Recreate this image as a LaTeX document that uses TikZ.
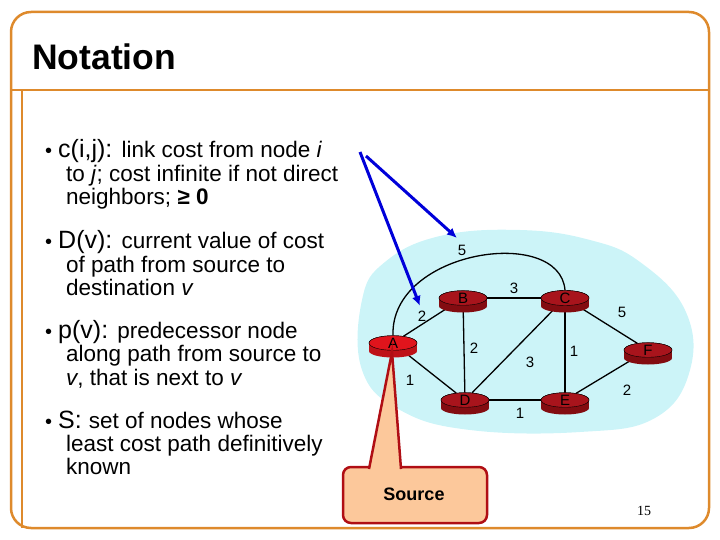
\documentclass[tikz,border=0pt]{standalone}
\usepackage{fontspec}
\setmainfont{Liberation Sans}
\newfontfamily\serifnum{Liberation Serif}
\usetikzlibrary{shapes.geometric,arrows.meta}
\definecolor{frame}{HTML}{DE8A2C}
\definecolor{cloud}{HTML}{CCF4F8}
\definecolor{rtr}{HTML}{9A0E14}
\definecolor{rtrtop}{HTML}{A8141C}
\definecolor{rtrA}{HTML}{E0141C}
\definecolor{peach}{HTML}{FCC89B}
\definecolor{calloutb}{HTML}{B00E14}
\newcommand{\bigf}{\fontsize{25}{26}\selectfont}
\newcommand{\smf}{\fontsize{22.5}{26}\selectfont}
\begin{document}
\begin{tikzpicture}[x=1pt,y=-1pt,
  router/.style={ellipse,draw=black,line width=0.4pt,fill=rtrtop,minimum width=48pt,minimum height=13pt,inner sep=0pt,font=\fontsize{15}{15}\selectfont},
  lbl/.style={font=\fontsize{15}{15}\selectfont},
  link/.style={line width=1.3pt},
  bl/.style={anchor=base west,inner sep=0pt},
  pointer/.style={draw=blue!85!black,line width=3pt,-{Latex[length=10pt,width=9pt]}}]
\useasboundingbox (0,0) rectangle (720,540);
% frame
\draw[frame,line width=2.5pt,rounded corners=20pt] (11,12) rectangle (709,528);
\draw[frame,line width=2.5pt] (11,90) -- (709,90);
\draw[frame,line width=2.5pt] (22,90) -- (22,528);
\node[anchor=base west,inner sep=0pt,font=\fontsize{35.5}{36}\selectfont\bfseries] (title) at (32,70) {Notation};
% cloud
\fill[cloud] plot[smooth cycle,tension=0.7] coordinates {(362,300) (385,262) (440,236) (520,230) (590,240) (640,262) (685,310) (690,370) (655,418) (580,432) (470,430) (400,410) (362,370)};
% nodes (placed for naming)
\node[router,fill=rtrA] (A) at (393,343) {A};
\node[router] (B) at (463,298) {B};
\node[router] (C) at (565,298) {C};
\node[router] (D) at (465,400) {D};
\node[router] (E) at (565,400) {E};
\node[router] (F) at (648,350) {F};
% links
\draw[link] (A) -- (B);
\draw[link] (A) -- (D);
\draw[link] (B) -- (C);
\draw[link] (B) -- (D);
\draw[link] (C) -- (D);
\draw[link] (C) -- (E);
\draw[link] (D) -- (E);
\draw[link] (C) -- (F);
\draw[link] (E) -- (F);
\draw[link] (A.north) .. controls (390,250) and (560,225) .. (C.north);
% router bodies above links
\foreach \p/\c in {{393,343}/rtrA,{463,298}/rtr,{565,298}/rtr,{465,400}/rtr,{565,400}/rtr,{648,350}/rtr}{
  \fill[\c!85!black] (\p) ++(-24,0) rectangle ++(48,8);
  \fill[\c!85!black] (\p) ++(0,8) ellipse (24pt and 6.5pt);
}
\node[router,fill=rtrA] at (393,343) {A};
\node[router] at (463,298) {B};
\node[router] at (565,298) {C};
\node[router] at (465,400) {D};
\node[router] at (565,400) {E};
\node[router] at (648,350) {F};
% labels
\node[lbl] (l1) at (462,250) {5};
\node[lbl] (l2) at (514,288) {3};
\node[lbl] (l3) at (422,316) {2};
\node[lbl] (l4) at (474,348) {2};
\node[lbl] (l5) at (530,362) {3};
\node[lbl] (l6) at (574,351) {1};
\node[lbl] (l7) at (622,312) {5};
\node[lbl] (l8) at (410,380) {1};
\node[lbl] (l9) at (520,413) {1};
\node[lbl] (l10) at (627,390) {2};
% pointers
\coordinate (p0) at (360,152);
\coordinate (p1) at (366,156);
\draw[pointer] (p0) -- (420,306);
\draw[pointer] (p1) -- (457,238);
% source callout
\fill[peach,draw=calloutb,line width=2.5pt,rounded corners=8pt] (343,467) rectangle (487,523);
\fill[peach] (392,352) -- (369,470) -- (401,470) -- cycle;
\draw[calloutb,line width=2.5pt] (369,469) -- (392,352) -- (401,469);
\node[font=\fontsize{18}{18}\selectfont\bfseries] (src) at (414,494) {Source};
% text
\node[bl] (b1) at (45,158) {\fontsize{20}{22}\selectfont•\hspace{6pt}\bigf c(i,j): \smf link cost from node \textit{i}};
\node[bl] (b1a) at (66,182) {\smf to \textit{j}; cost infinite if not direct};
\node[bl] (b1b) at (66,205) {\smf neighbors; \textbf{≥ 0}};
\node[bl] (b2) at (45,248) {\fontsize{20}{22}\selectfont•\hspace{6pt}\bigf D(v): \smf current value of cost};
\node[bl] (b2a) at (66,272) {\smf of path from source to};
\node[bl] (b2b) at (66,295) {\smf destination \textit{v}};
\node[bl] (b3) at (45,338) {\fontsize{20}{22}\selectfont•\hspace{6pt}\bigf p(v): \smf predecessor node};
\node[bl] (b3a) at (66,361) {\smf along path from source to};
\node[bl] (b3b) at (66,385) {\smf \textit{v}, that is next to \textit{v}};
\node[bl] (b4) at (45,428) {\fontsize{20}{22}\selectfont•\hspace{6pt}\bigf S: \smf set of nodes whose};
\node[bl] (b4a) at (66,451) {\smf least cost path definitively};
\node[bl] (b4b) at (66,474) {\smf known};
\node[font=\serifnum\fontsize{14}{14}\selectfont] (pg) at (644,511) {15};
\end{tikzpicture}
\end{document}
